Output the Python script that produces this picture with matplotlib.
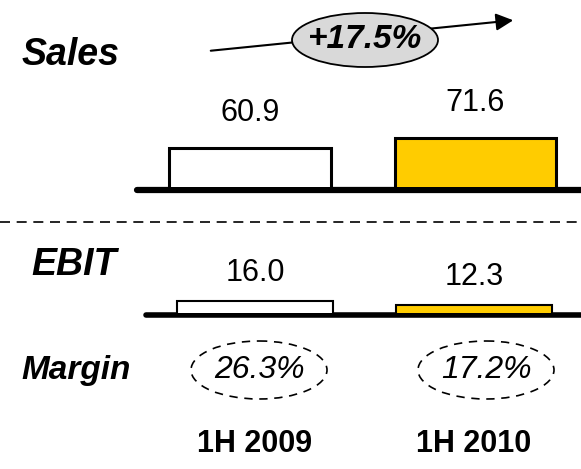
import matplotlib
matplotlib.use("Agg")
import matplotlib.pyplot as plt
from matplotlib.patches import Ellipse

plt.rcParams['font.family'] = ['Liberation Sans', 'DejaVu Sans']

periods = ["1H 2009", "1H 2010"]
sales = [60.9, 71.6]
ebit = [16.0, 12.3]
margins = ["26.3%", "17.2%"]
growth = "+17.5%"
bar_colors = ["white", "#FFCC00"]

W, H = 581, 469
fig = plt.figure(figsize=(W / 100, H / 100), dpi=100)

# overlay in pixel coordinates for labels and decorations
ov = fig.add_axes([0, 0, 1, 1])
ov.set_xlim(0, W)
ov.set_ylim(H, 0)
ov.axis("off")


def bar_axes(bottom_px, height_px, floor, ppu, center0, step):
    # axes spanning full width, bars at 0 and 1
    ax = fig.add_axes([0, (H - bottom_px) / H, 1, height_px / H])
    ax.set_xlim(-center0 / step, (W - center0) / step)
    ax.set_ylim(floor, floor + height_px / ppu)
    ax.axis("off")
    return ax


# Sales bars
ax1 = bar_axes(187, 120, 19.5, 0.935, 250, 225.5)
ax1.bar([0, 1], sales, width=0.715, color=bar_colors, edgecolor="black", linewidth=2.2, zorder=2)
for i, v in enumerate(sales):
    ax1.annotate(f"{v:.1f}", (i, v), xytext=(0, 35), textcoords="offset pixels",
                 ha="center", va="center", fontsize=22)

# EBIT bars
ax2 = bar_axes(312.5, 60, 4.9, 1.08, 255, 219)
ax2.bar([0, 1], ebit, width=0.71, color=bar_colors, edgecolor="black", linewidth=1.5, zorder=2)
for i, v in enumerate(ebit):
    ax2.annotate(f"{v:.1f}", (i, v), xytext=(0, 28), textcoords="offset pixels",
                 ha="center", va="center", fontsize=22)

# baselines and separator
ov.plot([137, W + 5], [190.5, 190.5], color="black", lw=4.5, solid_capstyle="round")
ov.plot([146, W + 5], [315, 315], color="black", lw=4, solid_capstyle="round")
ov.plot([0, W], [222, 222], color="black", lw=1.2, dashes=(6, 4))

# row labels
lab = dict(fontweight="bold", fontstyle="italic", va="center", ha="left")
ov.text(22, 55, "Sales", fontsize=27, **lab)
ov.text(31, 265, "EBIT", fontsize=27, **lab)
ov.text(21, 370, "Margin", fontsize=24, **lab)

# growth arrow
ov.annotate("", xy=(516, 20), xytext=(208, 51),
            arrowprops=dict(arrowstyle="-|>", color="black", lw=1.5, mutation_scale=26))
ov.add_patch(Ellipse((365, 40), 146, 54, facecolor="#D9D9D9", edgecolor="black", lw=1.3, zorder=3))
ov.text(365, 40, growth, fontsize=24, fontweight="bold", fontstyle="italic",
        ha="center", va="center", zorder=4)

# margins under each bar
for cx, m in zip([259, 486], margins):
    ov.add_patch(Ellipse((cx, 370), 136, 58, facecolor="none", edgecolor="black",
                         lw=1.2, linestyle=(0, (5, 4))))
    ov.text(cx, 370, m, fontsize=23, fontstyle="italic", ha="center", va="center")

# period labels
for i, p in enumerate(periods):
    ax2.text(i, -2.2, p, transform=ax2.get_xaxis_transform(), fontsize=22, fontweight="bold",
             ha="center", va="center")

fig.savefig("out.png", dpi=100)
